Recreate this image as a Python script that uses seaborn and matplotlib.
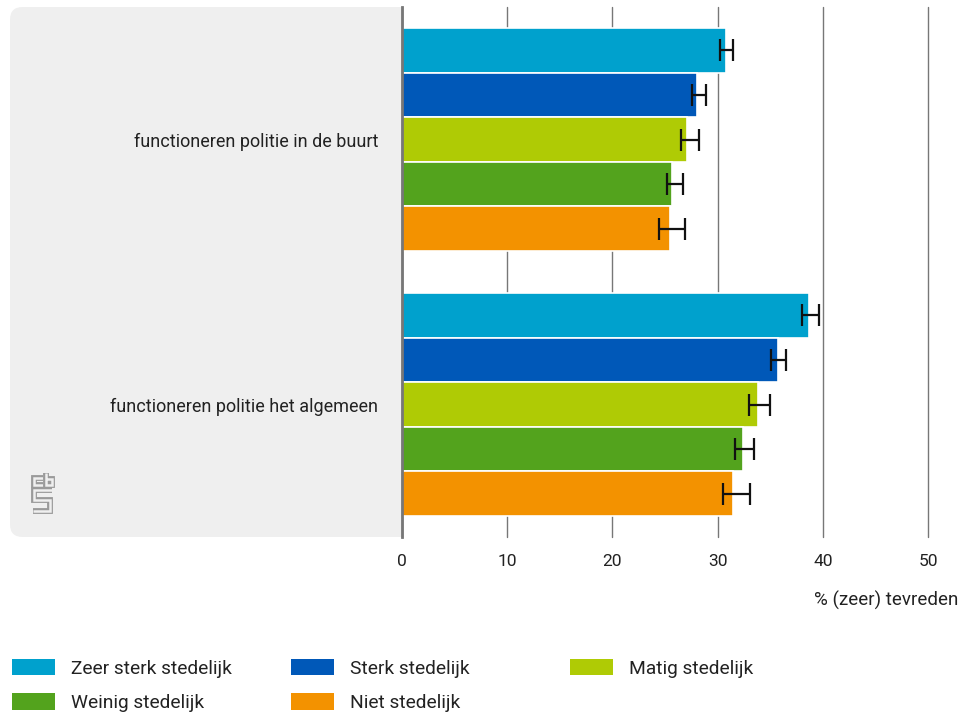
import matplotlib
matplotlib.use('Agg')
import matplotlib.pyplot as plt
from matplotlib.patches import FancyBboxPatch, Patch
from matplotlib.lines import Line2D
import seaborn as sns
import pandas as pd

# data
categories = ['functioneren politie in de buurt', 'functioneren politie het algemeen']
groups = ['Zeer sterk stedelijk', 'Sterk stedelijk', 'Matig stedelijk',
          'Weinig stedelijk', 'Niet stedelijk']
values_buurt = [30.8, 28.0, 27.1, 25.7, 25.5]
low_buurt = [30.2, 27.6, 26.5, 25.2, 24.4]
high_buurt = [31.5, 28.9, 28.2, 26.7, 26.9]
values_alg = [38.7, 35.7, 33.8, 32.4, 31.5]
low_alg = [38.0, 35.1, 33.0, 31.7, 30.5]
high_alg = [39.6, 36.5, 35.0, 33.5, 33.1]
colors = ['#00a1cd', '#0058b8', '#afcb05', '#53a31d', '#f39200']
xticks = [0, 10, 20, 30, 40, 50]
xlabel = '% (zeer) tevreden'

rows = []
for i, g in enumerate(groups):
    rows.append([categories[0], g, values_buurt[i], low_buurt[i], high_buurt[i]])
    rows.append([categories[1], g, values_alg[i], low_alg[i], high_alg[i]])
df = pd.DataFrame(rows, columns=['categorie', 'groep', 'waarde', 'laag', 'hoog'])

sns.set_style('white')
plt.rcParams['font.family'] = ['Roboto', 'DejaVu Sans']
W, H = 968, 715
fig = plt.figure(figsize=(W / 100, H / 100), dpi=100)

def fx(x):
    return x / W

def fy(y):
    return 1 - y / H

ax = fig.add_axes([fx(402), fy(537), fx(928) - fx(402), fy(7) - fy(537)])

# grey panel behind the category labels
panel = FancyBboxPatch((fx(10), fy(537)), fx(420) - fx(10), fy(7) - fy(537),
                       boxstyle='round,pad=0,rounding_size=0.013',
                       transform=fig.transFigure, facecolor='#efefef',
                       edgecolor='none', zorder=-1, mutation_aspect=W / H)
fig.patches.append(panel)

sns.barplot(data=df, y='categorie', x='waarde', hue='groep', order=categories,
            hue_order=groups, palette=colors, orient='h', width=0.84,
            errorbar=None, edgecolor='white', linewidth=1.2, saturation=1,
            legend=False, ax=ax)

for cont, g in zip(ax.containers, groups):
    for bar, cat in zip(cont.patches, categories):
        r = df[(df.groep == g) & (df.categorie == cat)].iloc[0]
        yc = bar.get_y() + bar.get_height() / 2
        ax.errorbar(r.waarde, yc, xerr=[[r.waarde - r.laag], [r.hoog - r.waarde]],
                    fmt='none', ecolor='#111111', elinewidth=1.6, capsize=8,
                    capthick=1.6, zorder=5)

ax.set_xlim(0, 50)
ax.set_ylim(1.5, -0.5)
ax.set_xticks(xticks)
ax.set_xlabel('')
ax.set_ylabel('')
ax.grid(axis='x', color='#777777', linewidth=1)
for gl in ax.get_xgridlines():
    gl.set_clip_on(False)
ax.set_axisbelow(True)
for s in ['top', 'right', 'bottom']:
    ax.spines[s].set_visible(False)
ax.spines['left'].set_color('#777777')
ax.spines['left'].set_linewidth(2)
ax.spines['left'].set_zorder(6)
ax.tick_params(axis='y', length=0, pad=17, labelsize=13, labelcolor='#222222')
ax.tick_params(axis='x', length=0, pad=12, labelsize=12.5, labelcolor='#222222')

fig.text(fx(958), fy(600), xlabel, ha='right', va='center', fontsize=13.5,
         color='#222222')

# legend, three columns filled row by row
handles = [Patch(facecolor=c, edgecolor='none') for c in colors]
col_x = [4, 283, 562]
for j in range(3):
    idx = [k for k in range(len(groups)) if k % 3 == j]
    fig.legend([handles[k] for k in idx], [groups[k] for k in idx],
               loc='upper left', bbox_to_anchor=(fx(col_x[j]), fy(651)),
               frameon=False, fontsize=13.8, handlelength=2.25,
               handleheight=0.95, handletextpad=0.85, labelspacing=0.82,
               borderaxespad=0, labelcolor='#222222')

# simple cbs logo
logo_paths = [
    [(43, 478), (34, 478), (34, 485), (43, 485)],
    [(46, 473), (46, 485), (52, 485), (52, 479), (46, 479)],
    [(52, 490), (34, 490), (34, 500), (50, 500), (50, 511), (33, 511)],
]
for p in logo_paths:
    xs = [fx(a) for a, b in p]
    ys = [fy(b) for a, b in p]
    fig.add_artist(Line2D(xs, ys, transform=fig.transFigure, color='#9a9a9a',
                          linewidth=4.2, solid_capstyle='butt',
                          solid_joinstyle='miter'))
    fig.add_artist(Line2D(xs, ys, transform=fig.transFigure, color='#efefef',
                          linewidth=1.8, solid_capstyle='butt',
                          solid_joinstyle='miter'))

fig.savefig('out.png', dpi=100)
